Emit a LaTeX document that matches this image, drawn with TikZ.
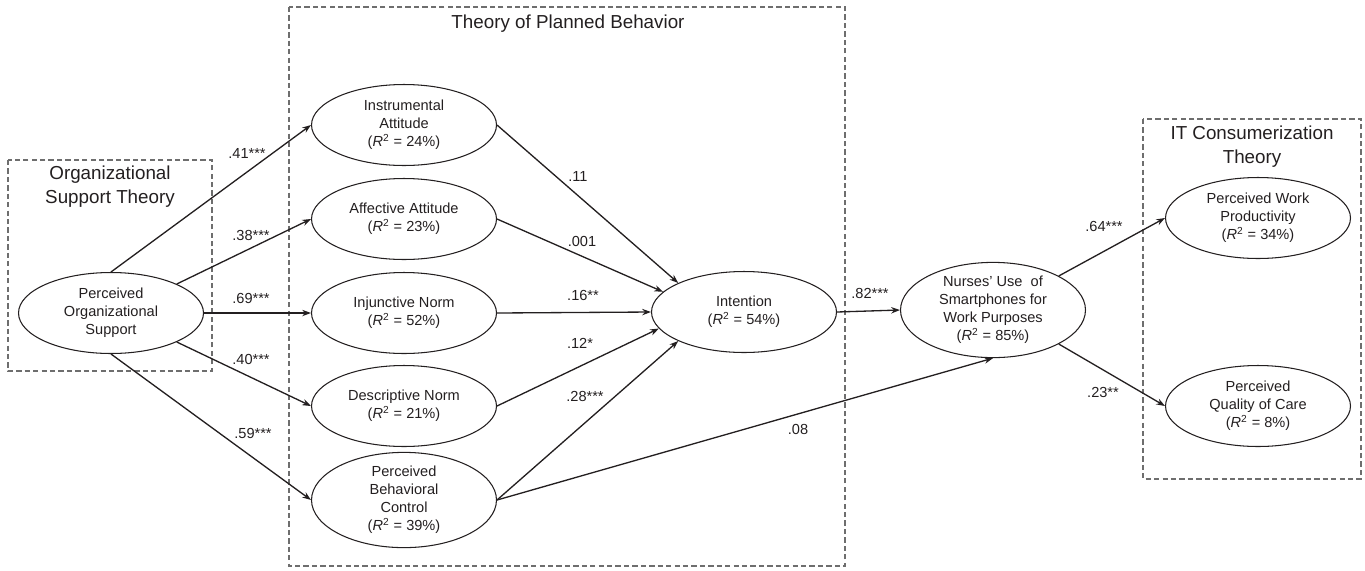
\documentclass[tikz,border=0pt]{standalone}
\usepackage{fontspec}
\setmainfont{Liberation Sans}
\usetikzlibrary{shapes.geometric,arrows.meta}

\definecolor{boxgray}{RGB}{110,110,110}
\definecolor{ink}{RGB}{35,31,32}

\tikzset{
  construct/.style={ellipse, draw=ink, line width=0.6pt, inner sep=0pt,
    minimum width=3.7cm, minimum height=1.62cm, align=center, text=ink,
    font=\fontsize{8.3}{10.2}\selectfont},
  effect/.style={draw=ink, line width=0.75pt, -{Stealth[length=5pt,width=3.6pt]}},
  coef/.style={text=ink, font=\fontsize{8.3}{10}\selectfont},
  theory/.style={draw=boxgray, line width=0.6pt, dash pattern=on 3pt off 1.8pt},
  theorytitle/.style={text=ink, align=center, font=\fontsize{10.7}{13.6}\selectfont}
}

\newcommand{\rsq}[1]{(\textit{R}\textsuperscript{2} = #1\%)}

\begin{document}
\begin{tikzpicture}

\def\s{0.02}

\useasboundingbox (0,0) rectangle (1365*\s, -570*\s);

% theory boxes
\draw [theory] (8*\s, -160*\s) rectangle (212*\s, -371*\s);
\draw [theory] (289*\s, -7*\s) rectangle (845*\s, -566*\s);
\draw [theory] (1143*\s, -119*\s) rectangle (1361*\s, -479*\s);

\node [theorytitle] (ost) at (110*\s, -187*\s) {Organizational\\Support Theory};
\node [theorytitle] (tpb) at (568*\s, -24*\s) {Theory of Planned Behavior};
\node [theorytitle] (itc) at (1252*\s, -147*\s) {IT Consumerization\\Theory};

% constructs
\node [construct] (pos) at (111*\s, -313*\s) {Perceived\\Organizational\\Support};

\node [construct] (ia)  at (404*\s, -125*\s) {Instrumental\\Attitude\\\rsq{24}};
\node [construct] (aa)  at (404*\s, -219*\s) {Affective Attitude\\\rsq{23}};
\node [construct] (in)  at (404*\s, -313*\s) {Injunctive Norm\\\rsq{52}};
\node [construct] (dn)  at (404*\s, -406*\s) {Descriptive Norm\\\rsq{21}};
\node [construct] (pbc) at (404*\s, -500*\s) {Perceived\\Behavioral\\Control\\\rsq{39}};

\node [construct] (int) at (744*\s, -312*\s) {Intention\\\rsq{54}};
\node [construct] (use) at (993*\s, -310*\s) {Nurses’ Use~ of\\Smartphones for\\Work Purposes\\\rsq{85}};

\node [construct] (pwp) at (1258*\s, -218*\s) {Perceived Work\\Productivity\\\rsq{34}};
\node [construct] (pqc) at (1258*\s, -406*\s) {Perceived\\Quality of Care\\\rsq{8}};

% paths
\draw [effect] (pos.north) -- (ia.west);
\draw [effect] (pos.north east) -- (aa.west);
\draw [effect] (pos.east) -- (in.west);
\draw [effect] (pos.south east) -- (dn.west);
\draw [effect] (pos.south) -- (pbc.west);

\draw [effect] (ia.east) -- (int.north west);
\draw [effect] (aa.east) -- (int.166);
\draw [effect] (in.east) -- (int.west);
\draw [effect] (dn.east) -- (int.191);
\draw [effect] (pbc.east) -- (int.south west);
\draw [effect] (pbc.east) -- (use.south);

\draw [effect] (int.east) -- (use.west);
\draw [effect] (use.north east) -- (pwp.west);
\draw [effect] (use.south east) -- (pqc.west);

% coefficients
\node [coef] (c41) at (247*\s, -153*\s) {.41***};
\node [coef] (c38) at (251*\s, -235*\s) {.38***};
\node [coef] (c69) at (251*\s, -298*\s) {.69***};
\node [coef] (c40) at (251*\s, -359*\s) {.40***};
\node [coef] (c59) at (253*\s, -433*\s) {.59***};

\node [coef] (c11)  at (578*\s, -176*\s) {.11};
\node [coef] (c001) at (582*\s, -241*\s) {.001};
\node [coef] (c16)  at (583*\s, -295*\s) {.16**};
\node [coef] (c12)  at (580*\s, -343*\s) {.12*};
\node [coef] (c28)  at (585*\s, -396*\s) {.28***};

\node [coef] (c82) at (870*\s, -293*\s) {.82***};
\node [coef] (c08) at (798*\s, -429*\s) {.08};
\node [coef] (c64) at (1104*\s, -226*\s) {.64***};
\node [coef] (c23) at (1103*\s, -392*\s) {.23**};

\end{tikzpicture}
\end{document}
